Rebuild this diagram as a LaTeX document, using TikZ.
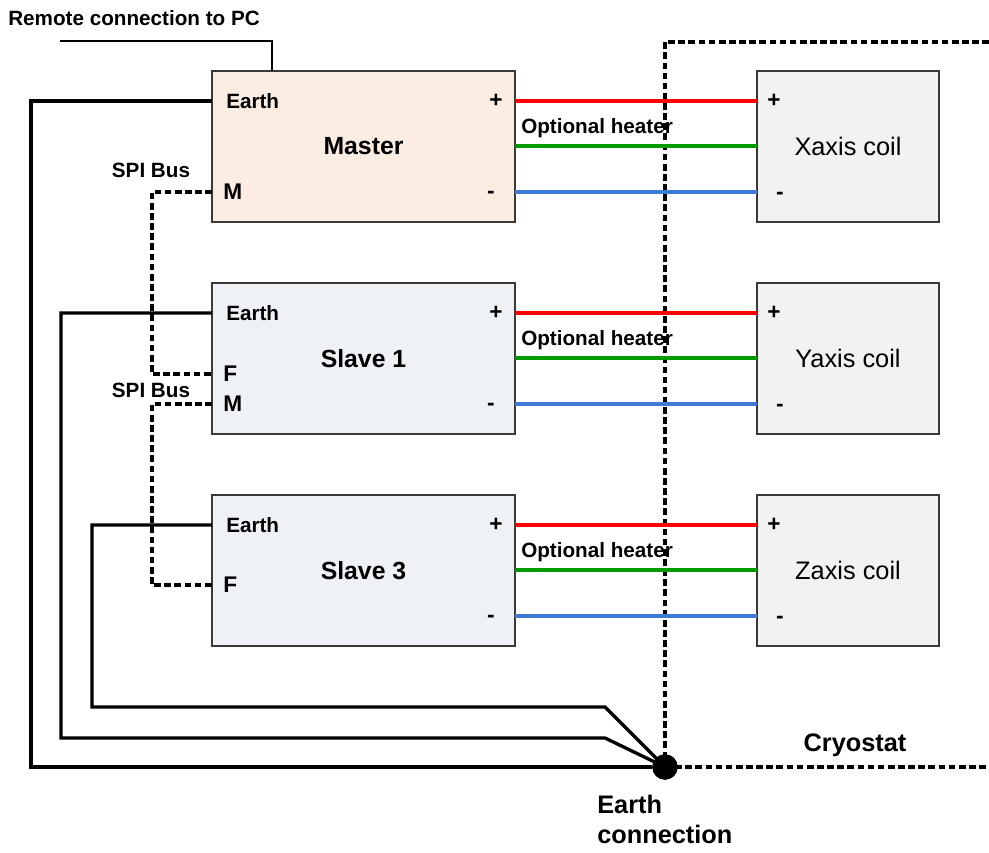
\documentclass[tikz,border=0pt]{standalone}
\usepackage{fontspec}
\setmainfont{Liberation Sans}
\usetikzlibrary{calc}
\definecolor{masterfill}{HTML}{FCEDE3}
\definecolor{slavefill}{HTML}{EEF1F6}
\definecolor{coilfill}{HTML}{F2F2F2}
\definecolor{wred}{HTML}{FF0000}
\definecolor{wgreen}{HTML}{009A00}
\definecolor{wblue}{HTML}{3F7BD4}
\definecolor{boxline}{HTML}{3A3A3A}
\begin{document}
\begin{tikzpicture}[x=0.75pt,y=-0.75pt,
  ctrlbox/.style={draw=boxline,line width=1.3pt,minimum width=227.25pt,minimum height=113.25pt,inner sep=0pt,font=\fontsize{18.6}{22}\selectfont\bfseries},
  coilbox/.style={draw=boxline,fill=coilfill,line width=1.3pt,minimum width=136.5pt,minimum height=113.25pt,inner sep=0pt,font=\fontsize{19}{22}\selectfont},
  smalllbl/.style={inner sep=0pt,font=\fontsize{15.5}{18}\selectfont\bfseries},
  signlbl/.style={inner sep=0pt,font=\fontsize{17}{18}\selectfont\bfseries},
  biglbl/.style={inner sep=0pt,font=\fontsize{19}{22.5}\selectfont\bfseries},
  earthwire/.style={line width=2.5pt,line join=miter},
  redwire/.style={wred,line width=3pt},
  greenwire/.style={wgreen,line width=3pt},
  bluewire/.style={wblue,line width=3pt},
  cryoline/.style={line width=3pt,dash pattern=on 5pt off 2.6pt},
  spiline/.style={line width=2.5pt,dash pattern=on 5pt off 2.6pt},
  remoteline/.style={line width=1.3pt},
  earthdot/.style={circle,fill=black,minimum size=19pt,inner sep=0pt}
]
\useasboundingbox (0,0) rectangle (989,853);

% cryostat boundary
\node[earthdot] (dot) at (665,767) {};
\coordinate (cryoTop) at (665,42);
\coordinate (cryoTR) at (989,42);
\coordinate (cryoBR) at (989,767);
\draw[cryoline] (cryoTR) -- (cryoTop) -- (dot.center);
\draw[cryoline] (dot.center) -- (cryoBR);
\node[biglbl] (cryolbl) at (855,745) {Cryostat};
\node[biglbl,anchor=north west,align=left] (earthconn) at (597,795) {Earth\\connection};

% controllers, coils and wires
\foreach \n/\dy/\lbl/\fc/\coil in {m/0/Master/masterfill/Xaxis coil,s1/212/Slave 1/slavefill/Yaxis coil,s3/424/Slave 3/slavefill/Zaxis coil}{
  \node[ctrlbox,fill=\fc] (\n) at (363.5,{146.5+\dy}) {\lbl};
  \node[coilbox] (\n coil) at (848,{146.5+\dy}) {\coil};
  \coordinate (\n E) at (212,{101+\dy});
  \coordinate (\n P) at (515,{101+\dy});
  \coordinate (\n H) at (515,{146+\dy});
  \coordinate (\n N) at (515,{192+\dy});
  \coordinate (\n cP) at (757,{101+\dy});
  \coordinate (\n cH) at (757,{146+\dy});
  \coordinate (\n cN) at (757,{192+\dy});
  \draw[redwire] (\n P) -- (\n cP);
  \draw[greenwire] (\n H) -- (\n cH);
  \draw[bluewire] (\n N) -- (\n cN);
  \node[smalllbl,anchor=west] (\n earthlbl) at (226,{101+\dy}) {Earth};
  \node[signlbl] (\n plus) at (496,{101+\dy}) {+};
  \node[signlbl] (\n minus) at (491,{195+\dy}) {-};
  \node[smalllbl,anchor=west] (\n heat) at (521,{128+\dy}) {Optional heater};
  \node[signlbl] (\n cplus) at (774,{101+\dy}) {+};
  \node[signlbl] (\n cminus) at (780,{196+\dy}) {-};
}

% port letters
\node[signlbl,anchor=west] (mM) at (223,192) {M};
\node[signlbl,anchor=west] (s1F) at (223,374) {F};
\node[signlbl,anchor=west] (s1M) at (223,404) {M};
\node[signlbl,anchor=west] (s3F) at (223,585) {F};
\coordinate (mMp) at (212,192);
\coordinate (s1Fp) at (212,374);
\coordinate (s1Mp) at (212,404);
\coordinate (s3Fp) at (212,585);

% SPI bus
\node[smalllbl] (spi1) at (151,170) {SPI Bus};
\node[smalllbl] (spi2) at (151,390) {SPI Bus};
\draw[spiline] (mMp) -| (152,374) -- (s1Fp);
\draw[spiline] (s1Mp) -| (152,585) -- (s3Fp);

% remote connection
\node[smalllbl,anchor=west] (remote) at (8,18) {Remote connection to PC};
\coordinate (remoteEnd) at (60,41);
\coordinate (masterTop) at (272,71);
\draw[remoteline] (remoteEnd) -| (masterTop);

% earth wires
\draw[earthwire] (mE) -| (31,767) -- (dot);
\draw[earthwire] (s1E) -| (61,738) -- (605,738) -- (dot.center);
\draw[earthwire] (s3E) -| (92,707) -- (605,707) -- (dot.center);
\node[earthdot] at (dot) {};
\end{tikzpicture}
\end{document}
